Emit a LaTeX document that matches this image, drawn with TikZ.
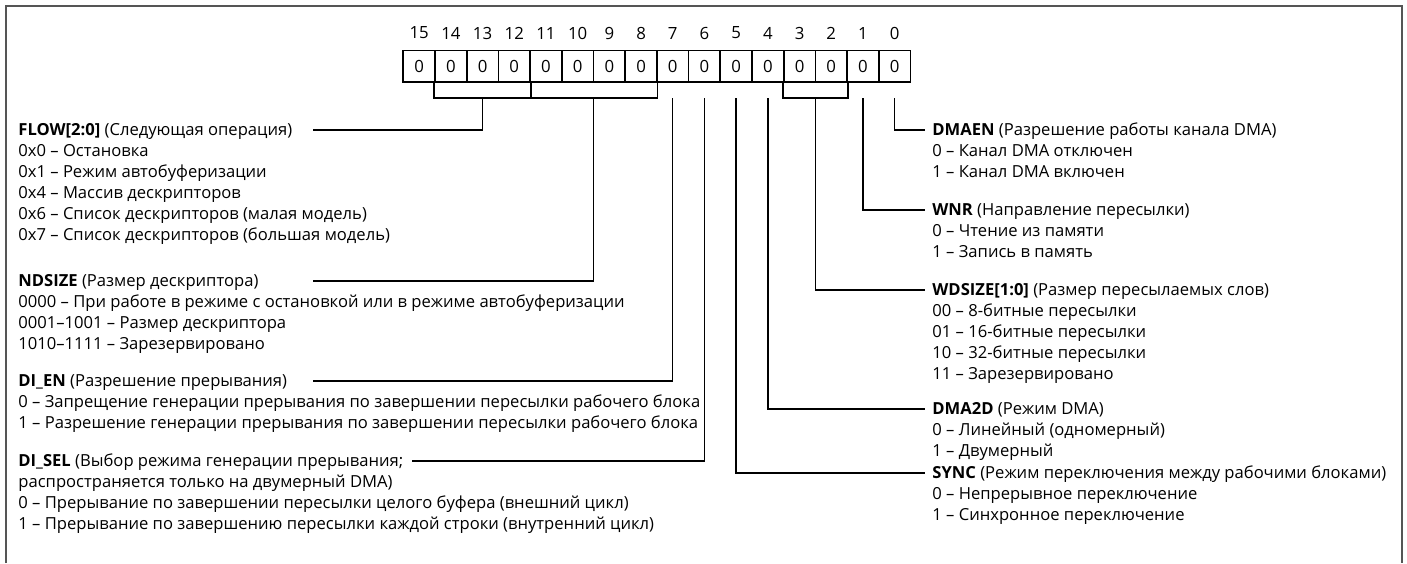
\documentclass[tikz,border=0pt]{standalone}
\usepackage{fontspec}
\setmainfont{Open Sans}
\usetikzlibrary{calc}
\definecolor{framec}{HTML}{555555}
\begin{document}
\begin{tikzpicture}[x=0.5pt,y=-0.5pt,
  txt/.style={anchor=base west, inner sep=0pt, font=\fontsize{8.3}{10}\selectfont},
  bitbox/.style={draw, line width=0.85pt, minimum width=15.85pt, minimum height=15.75pt, inner sep=0pt, font=\fontsize{8.4}{10}\selectfont},
  bitnum/.style={inner sep=0pt, font=\fontsize{8.4}{10}\selectfont},
  conn/.style={line width=0.7pt}]
\useasboundingbox (0,0) rectangle (1407,563);
\draw[framec, line width=1pt] (6,563) -- (6,6) -- (1402,6) -- (1402,563);
% register
\foreach \b in {0,...,15} {
  \node[bitbox] (b\b) at ({403.3+31.7*(15-\b)+15.85},66.25) {0};
  \node[bitnum] (n\b) at ({403.3+31.7*(15-\b)+15.85},33) {\b};
}
\coordinate (by) at (0,98);
% brackets
\draw[conn] (b14.south west) -- (b14.south west |- by) -- (b8.south east |- by) -- (b8.south east);
\draw[conn] (b12.south east) -- (b12.south east |- by);
\draw[conn] (b3.south west) -- (b3.south west |- by) -- (b2.south east |- by) -- (b2.south east);
\coordinate (mflow) at (482.5,98);
\coordinate (mnd) at (593.5,98);
\coordinate (mwd) at (815.4,98);
% left texts
\foreach \t [count=\i from 0] in {{\textbf{FLOW[2:0]} (Следующая операция)},{0x0 – Остановка},{0x1 – Режим автобуферизации},{0x4 – Массив дескрипторов},{0x6 – Список дескрипторов (малая модель)},{0x7 – Список дескрипторов (большая модель)}}
  \node[txt] (flow\i) at (18,{135+21*\i}) {\t};
\foreach \t [count=\i from 0] in {{\textbf{NDSIZE} (Размер дескриптора)},{0000 – При работе в режиме с остановкой или в режиме автобуферизации},{0001–1001 – Размер дескриптора},{1010–1111 – Зарезервировано}}
  \node[txt] (nd\i) at (18,{286+21*\i}) {\t};
\foreach \t [count=\i from 0] in {{\textbf{DI\_EN} (Разрешение прерывания)},{0 – Запрещение генерации прерывания по завершении пересылки рабочего блока},{1 – Разрешение генерации прерывания по завершении пересылки рабочего блока}}
  \node[txt] (den\i) at (18,{386+21*\i}) {\t};
\foreach \t [count=\i from 0] in {{\textbf{DI\_SEL} (Выбор режима генерации прерывания;},{распространяется только на двумерный DMA)},{0 – Прерывание по завершении пересылки целого буфера (внешний цикл)},{1 – Прерывание по завершению пересылки каждой строки (внутренний цикл)}}
  \node[txt] (dsel\i) at (18,{466+21*\i}) {\t};
% right texts
\foreach \t [count=\i from 0] in {{\textbf{DMAEN} (Разрешение работы канала DMA)},{0 – Канал DMA отключен},{1 – Канал DMA включен}}
  \node[txt] (dmaen\i) at (932,{135+21*\i}) {\t};
\foreach \t [count=\i from 0] in {{\textbf{WNR} (Направление пересылки)},{0 – Чтение из памяти},{1 – Запись в память}}
  \node[txt] (wnr\i) at (932,{215+21*\i}) {\t};
\foreach \t [count=\i from 0] in {{\textbf{WDSIZE[1:0]} (Размер пересылаемых слов)},{00 – 8-битные пересылки},{01 – 16-битные пересылки},{10 – 32-битные пересылки},{11 – Зарезервировано}}
  \node[txt] (wd\i) at (932,{295+21*\i}) {\t};
\foreach \t [count=\i from 0] in {{\textbf{DMA2D} (Режим DMA)},{0 – Линейный (одномерный)},{1 – Двумерный}}
  \node[txt] (d2\i) at (932,{414+21*\i}) {\t};
\foreach \t [count=\i from 0] in {{\textbf{SYNC} (Режим переключения между рабочими блоками)},{0 – Непрерывное переключение},{1 – Синхронное переключение}}
  \node[txt] (sy\i) at (932,{478+21*\i}) {\t};
% connector end points
\coordinate (eflow) at (313,130);
\coordinate (end) at (313,281);
\coordinate (eden) at (313,381);
\coordinate (esel) at ($(dsel0.base east)+(8,-5)$);
\coordinate (edmaen) at (925,130);
\coordinate (ewnr) at (925,210);
\coordinate (ewd) at (925,290);
\coordinate (ed2) at (925,409);
\coordinate (esy) at (925,473);
% connectors
\draw[conn] (mflow) |- (eflow);
\draw[conn] (mnd) |- (end);
\draw[conn] (b7.south |- by) |- (eden);
\draw[conn] (b6.south |- by) |- (esel);
\draw[conn] (b5.south |- by) |- (esy);
\draw[conn] (b4.south |- by) |- (ed2);
\draw[conn] (mwd) |- (ewd);
\draw[conn] (b1.south |- by) |- (ewnr);
\draw[conn] (b0.south |- by) |- (edmaen);
\end{tikzpicture}
\end{document}
